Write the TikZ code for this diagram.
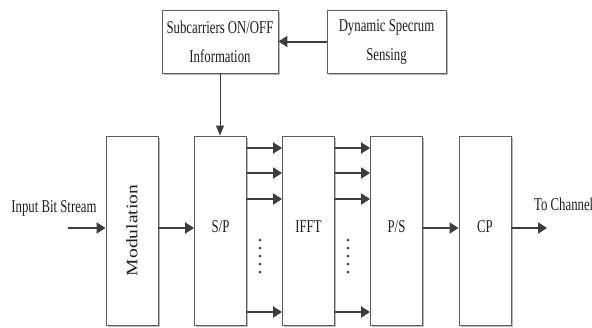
\documentclass[tikz,border=0pt]{standalone}
\usepackage{fontspec}
\setmainfont{Liberation Serif}[FakeStretch=0.71]
\newfontfamily\modfont{Liberation Serif}[FakeStretch=1.22]
\usetikzlibrary{arrows.meta,shadows,calc}
\definecolor{boxline}{HTML}{5E5E5E}
\definecolor{arrcol}{HTML}{3C3C3C}
\definecolor{txt}{HTML}{1E1E1E}
\tikzset{
  blk/.style={draw=boxline, line width=0.9pt, fill=white, inner sep=0pt,
    drop shadow={shadow xshift=1.6pt, shadow yshift=-1.6pt, fill=black!28, opacity=1},
    text=txt, font=\fontsize{18}{29}\selectfont, align=center},
  tall/.style={blk, minimum width=52pt, minimum height=189pt},
  lbl/.style={text=txt, font=\fontsize{18}{21}\selectfont, inner sep=0pt},
  arr/.style={draw=arrcol, line width=2pt, -{Triangle[length=9pt,width=11pt]}},
  thinarr/.style={draw=arrcol, line width=1pt, -{Triangle[length=10pt,width=8pt]}},
  dotc/.style={fill=arrcol, draw=none}
}
\begin{document}
\begin{tikzpicture}[x=1pt, y=-1pt]
\useasboundingbox (0,0) rectangle (592,327);
% top boxes
\node[blk, minimum width=116pt, minimum height=63pt] (sub) at (220,41.5) {Subcarriers ON/OFF\\Information};
\node[blk, minimum width=119pt, minimum height=63pt] (dyn) at (386.5,41.5) {Dynamic Specrum\\Sensing};
% main chain
\node[tall, label={[lbl, rotate=90, font=\fontsize{16}{19}\selectfont]center:{\modfont Modulation}}] (mod) at (132,230.5) {};
\node[tall, label={[lbl, yshift=4pt]center:S/P}] (sp) at (220.5,230.5) {};
\node[tall, label={[lbl, yshift=4pt]center:IFFT}] (ifft) at (308.5,230.5) {};
\node[tall, label={[lbl, yshift=4pt]center:P/S}] (ps) at (396.5,230.5) {};
\node[tall, label={[lbl, yshift=4pt]center:CP}] (cp) at (485,230.5) {};
% outside texts
\node[lbl, anchor=base] (inlbl) at (54,212) {Input Bit Stream};
\node[lbl, anchor=base west] (outlbl) at (534,210) {To Channel};
\coordinate (inpt) at (68,228);
\coordinate (outpt) at (547,228);
% connectors
\draw[arr] (dyn.west) -- (sub.east);
\draw[thinarr] (sub.south) -- (sub.south |- sp.north);
\draw[arr] (inpt) -- (inpt -| mod.west);
\draw[arr] ([yshift=2.5pt]mod.east) -- ([yshift=2.5pt]sp.west);
\draw[arr] ([yshift=2.5pt]ps.east) -- ([yshift=2.5pt]cp.west);
\draw[arr] ([yshift=2.5pt]cp.east) -- (outpt);
\foreach \yy in {148,173,199,312}{
  \draw[arr] (sp.east |- 0,\yy) -- (ifft.west |- 0,\yy);
  \draw[arr] (ifft.east |- 0,\yy) -- (ps.west |- 0,\yy);
}
\foreach \k in {0,...,4}{
  \fill[dotc] (260,240+8*\k) circle (1.5pt);
  \fill[dotc] (348,240+8*\k) circle (1.5pt);
}
\end{tikzpicture}
\end{document}
